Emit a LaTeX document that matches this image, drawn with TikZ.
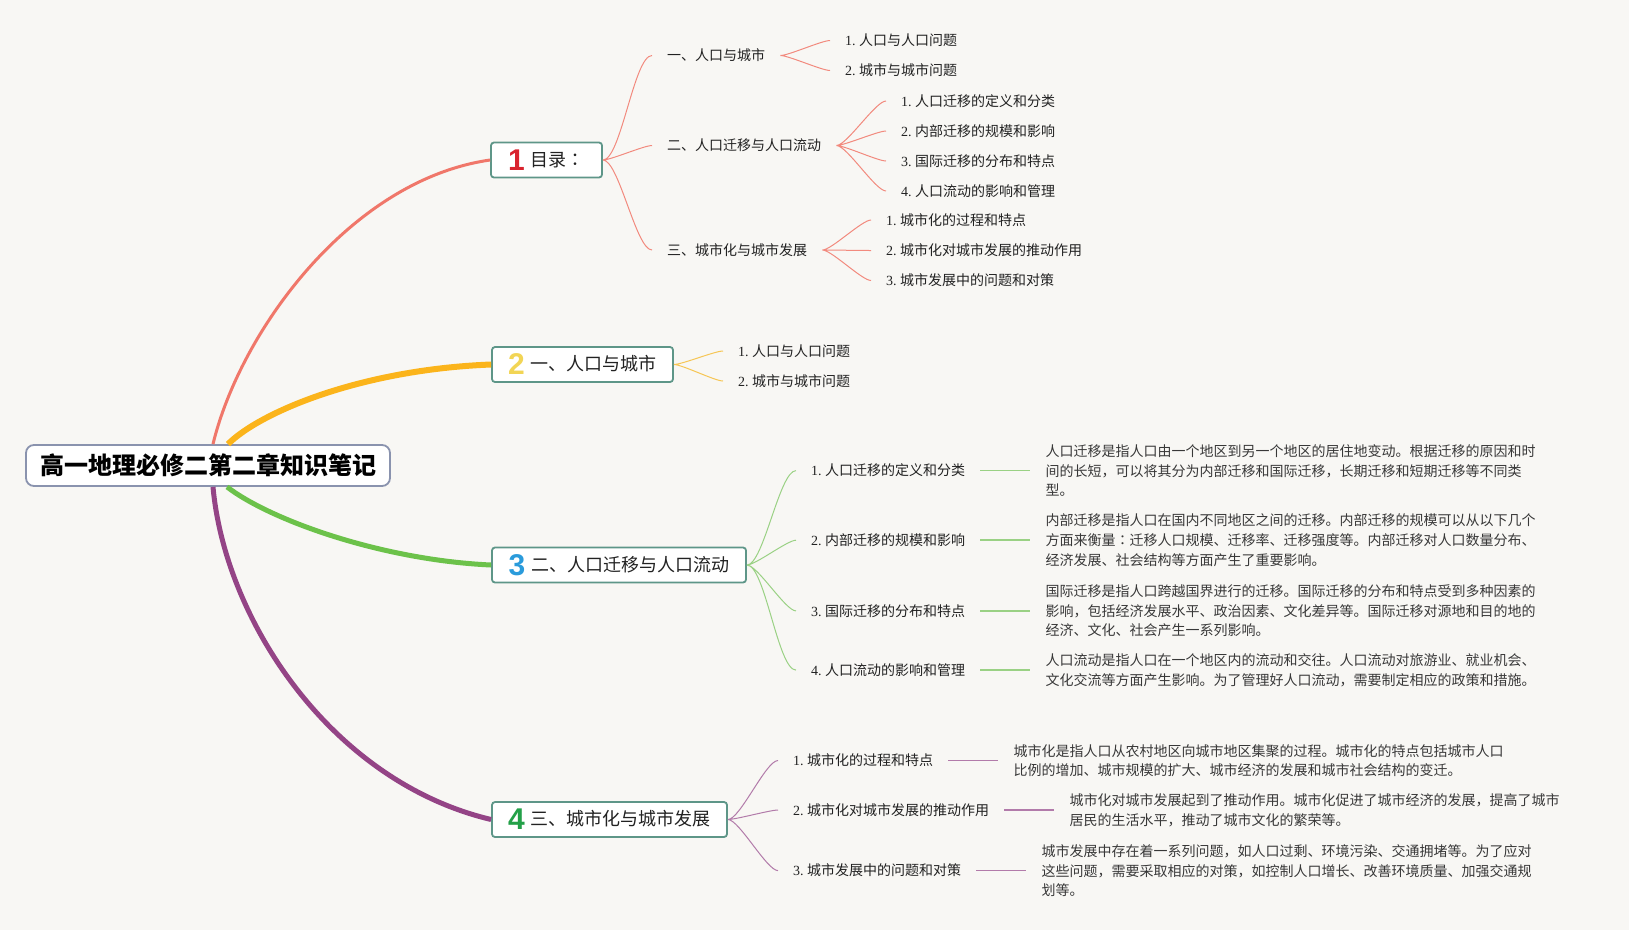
\documentclass[tikz,border=0pt]{standalone}
\usepackage{fontspec}
\setmainfont{Liberation Serif}
\newfontfamily\cjk{Noto Sans CJK SC}
\newfontfamily\cjktc{Noto Sans CJK TC}
\newfontfamily\numfont{Liberation Sans}
\usetikzlibrary{positioning}
\definecolor{bg}{HTML}{F8F7F4}
\definecolor{ink}{HTML}{222222}
\definecolor{frame}{HTML}{5E9688}
\definecolor{rootframe}{HTML}{8A93AE}
\definecolor{brred}{HTML}{F0776A}
\definecolor{bryel}{HTML}{FBB41B}
\definecolor{brgrn}{HTML}{6CC24A}
\definecolor{brpur}{HTML}{944486}
\definecolor{lnred}{HTML}{F28A7E}
\definecolor{lnyel}{HTML}{F6C655}
\definecolor{lngrn}{HTML}{9AD184}
\definecolor{lnpur}{HTML}{B27BAA}
\definecolor{nred}{HTML}{D9232E}
\definecolor{nyel}{HTML}{F2D555}
\definecolor{nblu}{HTML}{2A9BDB}
\definecolor{ngrn}{HTML}{23A048}
\newcommand\ix[1]{{\rmfamily #1.\ }}
\newcommand\bignum[2]{\raisebox{-4pt}{\numfont\bfseries\fontsize{30}{30}\selectfont\color{#1}#2}\hspace{6pt}}
\tikzset{
 box/.style={draw=frame,line width=1.8pt,fill=white,rounded corners=3pt,minimum height=35pt,inner xsep=0pt,inner ysep=0pt,text=ink,font=\cjk\fontsize{18}{18}\selectfont},
 sub/.style={anchor=west,inner xsep=15pt,inner ysep=2pt,text=ink,font=\cjk\fontsize{14}{19.7}\selectfont},
 para/.style={sub,align=left,text=ink!90},
 twig/.style={line width=1pt,out=0,in=180,looseness=0.4},
 leaf/.style={line width=1.5pt}
}

\begin{document}
\begin{tikzpicture}[x=1pt,y=-1pt]
\useasboundingbox (0,0) rectangle (1629,930);
\fill[bg] (0,0) rectangle (1629,930);
% centre and the four boxes
\node[draw=rootframe,line width=1.8pt,fill=white,rounded corners=8pt,minimum width=364pt,minimum height=41pt,inner sep=0pt,text=black,font=\cjk\bfseries\fontsize{24}{24}\selectfont] (root) at (208,465.5) {高一地理必修二第二章知识笔记};
\node[box,minimum width=111pt] (b1) at (546.5,160) {\bignum{nred}{1}目录{\cjktc ：}};
\node[box,minimum width=181pt] (b2) at (582.5,364.5) {\bignum{nyel}{2}一、人口与城市};
\node[box,minimum width=254pt] (b3) at (619,565) {\bignum{nblu}{3}二、人口迁移与人口流动};
\node[box,minimum width=235pt] (b4) at (609.5,819.5) {\bignum{ngrn}{4}三、城市化与城市发展};
\draw[brred,line width=3pt] ([xshift=5pt]root.north) .. controls +(27,-112) and +(-140,20) .. (b1.west);
\draw[bryel,line width=6pt] ([xshift=20pt]root.north) .. controls +(32,-32) and +(-130,5) .. (b2.west);
\draw[brgrn,line width=5pt] ([xshift=19pt]root.south) .. controls +(43,33) and +(-110,-5) .. (b3.west);
\draw[brpur,line width=5pt] ([xshift=5pt]root.south) .. controls +(12,133) and +(-160,-38) .. (b4.west);

% 1: table of contents
\node[sub] (r1) at (652,55.5) {一、人口与城市};
\node[sub] (r2) at (652,145.5) {二、人口迁移与人口流动};
\node[sub] (r3) at (652,250) {三、城市化与城市发展};
\node[sub] (r11) at (830,40.5) {\ix{1}人口与人口问题};
\node[sub] (r12) at (830,70.5) {\ix{2}城市与城市问题};
\node[sub] (r21) at (886,101) {\ix{1}人口迁移的定义和分类};
\node[sub] (r22) at (886,131) {\ix{2}内部迁移的规模和影响};
\node[sub] (r23) at (886,161) {\ix{3}国际迁移的分布和特点};
\node[sub] (r24) at (886,191) {\ix{4}人口流动的影响和管理};
\node[sub] (r31) at (871,220) {\ix{1}城市化的过程和特点};
\node[sub] (r32) at (871,250.5) {\ix{2}城市化对城市发展的推动作用};
\node[sub] (r33) at (871,280.5) {\ix{3}城市发展中的问题和对策};
\draw[lnred,twig] (b1.east) to (r1.west) (b1.east) to (r2.west) (b1.east) to (r3.west);
\draw[lnred,twig] (r1.east) to (r11.west) (r1.east) to (r12.west);
\draw[lnred,twig] (r2.east) to (r21.west) (r2.east) to (r22.west) (r2.east) to (r23.west) (r2.east) to (r24.west);
\draw[lnred,twig] (r3.east) to (r31.west) (r3.east) to (r32.west) (r3.east) to (r33.west);

% 2: population and cities
\node[sub] (o1) at (723,351) {\ix{1}人口与人口问题};
\node[sub] (o2) at (723,381) {\ix{2}城市与城市问题};
\draw[lnyel,twig] (b2.east) to (o1.west) (b2.east) to (o2.west);

% 3: migration
\node[sub] (g1) at (796,470.6) {\ix{1}人口迁移的定义和分类};
\node[sub] (g2) at (796,540.2) {\ix{2}内部迁移的规模和影响};
\node[sub] (g3) at (796,610.9) {\ix{3}国际迁移的分布和特点};
\node[sub] (g4) at (796,670.1) {\ix{4}人口流动的影响和管理};
\node[para,right=50pt of g1] (t1) {人口迁移是指人口由一个地区到另一个地区的居住地变动。根据迁移的原因和时\\间的长短，可以将其分为内部迁移和国际迁移，长期迁移和短期迁移等不同类\\型。};
\node[para,right=50pt of g2] (t2) {内部迁移是指人口在国内不同地区之间的迁移。内部迁移的规模可以从以下几个\\方面来衡量{\cjktc ：}迁移人口规模、迁移率、迁移强度等。内部迁移对人口数量分布、\\经济发展、社会结构等方面产生了重要影响。};
\node[para,right=50pt of g3] (t3) {国际迁移是指人口跨越国界进行的迁移。国际迁移的分布和特点受到多种因素的\\影响，包括经济发展水平、政治因素、文化差异等。国际迁移对源地和目的地的\\经济、文化、社会产生一系列影响。};
\node[para,right=50pt of g4] (t4) {人口流动是指人口在一个地区内的流动和交往。人口流动对旅游业、就业机会、\\文化交流等方面产生影响。为了管理好人口流动，需要制定相应的政策和措施。};
\draw[lngrn,twig] (b3.east) to (g1.west) (b3.east) to (g2.west) (b3.east) to (g3.west) (b3.east) to (g4.west);
\draw[lngrn,leaf] (g1.east) -- (t1.west) (g2.east) -- (t2.west) (g3.east) -- (t3.west) (g4.east) -- (t4.west);

% 4: urbanisation
\node[sub] (p1) at (778,760.5) {\ix{1}城市化的过程和特点};
\node[sub] (p2) at (778,810) {\ix{2}城市化对城市发展的推动作用};
\node[sub] (p3) at (778,870.6) {\ix{3}城市发展中的问题和对策};
\node[para,right=50pt of p1] (u1) {城市化是指人口从农村地区向城市地区集聚的过程。城市化的特点包括城市人口\\比例的增加、城市规模的扩大、城市经济的发展和城市社会结构的变迁。};
\node[para,right=50pt of p2] (u2) {城市化对城市发展起到了推动作用。城市化促进了城市经济的发展，提高了城市\\居民的生活水平，推动了城市文化的繁荣等。};
\node[para,right=50pt of p3] (u3) {城市发展中存在着一系列问题，如人口过剩、环境污染、交通拥堵等。为了应对\\这些问题，需要采取相应的对策，如控制人口增长、改善环境质量、加强交通规\\划等。};
\draw[lnpur,twig] (b4.east) to (p1.west) (b4.east) to (p2.west) (b4.east) to (p3.west);
\draw[lnpur,leaf] (p1.east) -- (u1.west) (p2.east) -- (u2.west) (p3.east) -- (u3.west);
\end{tikzpicture}
\end{document}
